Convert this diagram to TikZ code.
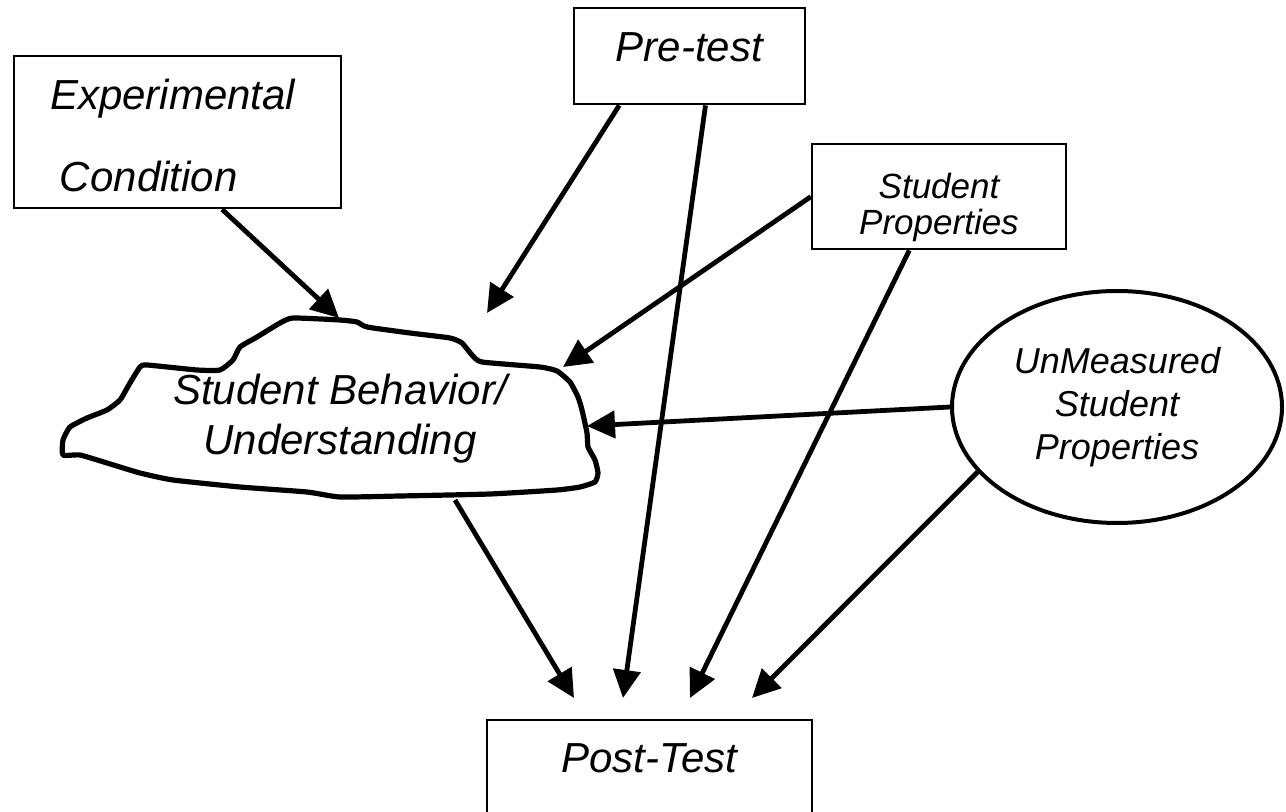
\documentclass[tikz,border=0pt]{standalone}
\usepackage{fontspec}
\setmainfont{Liberation Sans}
\usetikzlibrary{arrows.meta,shapes.geometric}

\begin{document}
\begin{tikzpicture}[x=0.5pt, y=-0.5pt,
    box/.style={draw, line width=1.2pt, inner sep=0pt, font=\itshape\fontsize{21}{25}\selectfont},
    link/.style={line width=2.4pt, -{Triangle[length=14pt,width=13.5pt]}}]
    \useasboundingbox (0,0) rectangle (1286,812);
    \clip (0,0) rectangle (1286,812);

    % boxes
    \node[box, anchor=north, minimum width=163.5pt, align=left, text width=127.5pt, inner xsep=18pt,
          text height=26.5pt, text depth=49.5pt,
          font=\itshape\fontsize{21}{41}\selectfont] (expcond) at (177.5,55) {Experimental\\\hspace*{5pt}Condition};
    \node[box, anchor=north, minimum width=115.5pt, text height=26.5pt, text depth=21.5pt] (pretest) at (689.5,7) {Pre-test};
    \node[box, anchor=north, align=center, text width=127pt, text height=27pt, text depth=25.5pt,
          font=\itshape\fontsize{17.5}{18}\selectfont] (stuprop) at (939,143) {Student\\Properties};
    \node[draw, ellipse, line width=2pt, minimum width=165pt, minimum height=116pt, inner sep=0pt, align=center,
          font=\itshape\fontsize{18}{21.5}\selectfont] (unmeas) at (1117,407) {UnMeasured\\Student\\Properties};
    \node[box, anchor=north, minimum width=162.5pt, text height=26pt, text depth=40pt] (posttest) at (649.5,719) {Post-Test};

    % the cloud
    \draw[line width=2.6pt, line join=round] plot[smooth cycle, tension=0.3] coordinates {
        (293,318) (340,320) (357,322) (367,327) (410,333) (450,338) (462,343) (472,355) (482,362)
        (540,367) (557,371) (570,382) (578,397) (582,410) (587,433) (588,447) (595,460) (598,473)
        (595,482) (580,487) (557,490) (490,494) (400,496) (340,497) (307,492) (240,487) (173,480)
        (140,473) (107,463) (80,455) (63,455) (63,440) (70,427) (87,418) (107,410) (120,400)
        (130,383) (140,367) (147,365) (197,370) (220,370) (233,360) (240,347) (257,337) (280,323)};
    \node[align=center, font=\itshape\fontsize{21}{25}\selectfont] (behav) at (340,419) {Student Behavior/\\Understanding};

    \coordinate (behavTop) at (339,318);
    \coordinate (behavRight) at (563,367);
    \coordinate (behavSide) at (587,426);
    \coordinate (behavBottom) at (455,500);
    \coordinate (preTip) at (487,313);
    \coordinate (postA) at (574,698);
    \coordinate (postB) at (623,698);
    \coordinate (postC) at (690,698);
    \coordinate (postD) at (752,698);

    % arrows
    \draw[link] (expcond.-60) -- (behavTop);
    \draw[link] (pretest.-145) -- (preTip);
    \draw[link] (pretest.-72) -- (postB);
    \draw[link] (stuprop.west) -- (behavRight);
    \draw[link] (stuprop.-119) -- (postC);
    \draw[link] (unmeas.west) -- (behavSide);
    \draw[link] (unmeas.-155) -- (postD);
    \draw[link] (behavBottom) -- (postA);
\end{tikzpicture}
\end{document}
